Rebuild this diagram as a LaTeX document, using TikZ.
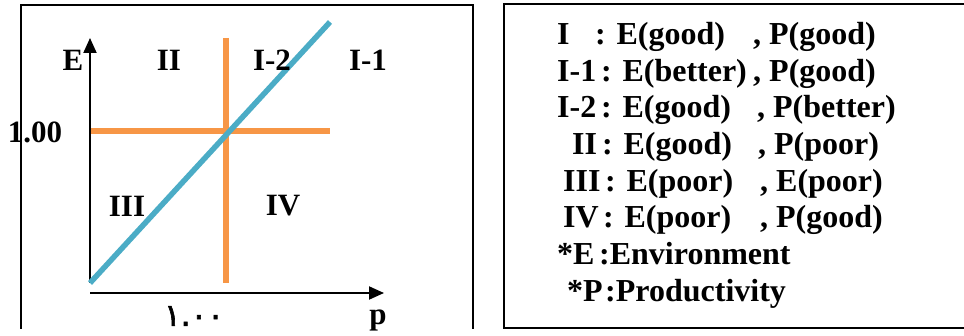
\documentclass[tikz,border=0pt]{standalone}
\usepackage{fontspec}
\setmainfont{Liberation Serif}
\newfontfamily\arabicfont[Script=Arabic, FakeBold=2]{DejaVu Sans}
\usetikzlibrary{arrows.meta}
\definecolor{splitorange}{HTML}{F79646}
\definecolor{trendblue}{HTML}{4BACC6}

\begin{document}
\begin{tikzpicture}[x=1pt, y=-1pt,
    region/.style={font=\fontsize{31}{36}\selectfont\bfseries, inner sep=0pt},
    legendrow/.style={font=\fontsize{32}{36}\selectfont\bfseries, inner sep=0pt, anchor=base west},
    axisline/.style={line width=2pt, -{Triangle[length=15pt, width=13pt]}},
    splitline/.style={line width=5.5pt, splitorange},
    trendline/.style={line width=5.5pt, trendblue}]
    \useasboundingbox (0,0) rectangle (964,336);

    % ---------- frames ----------
    \draw[line width=1.6pt] (21,329) -- (21,5) -- (473,5) -- (473,329);
    \draw[line width=1.8pt] (968,328) -- (504,328) -- (504,4) -- (968,4);

    % ---------- axes ----------
    \coordinate (ybot) at (90,283);
    \coordinate (ytop) at (90,38);
    \coordinate (xleft) at (90,293);
    \coordinate (xright) at (384,293);
    \draw[axisline] (ybot) -- (ytop);
    \draw[axisline] (xleft) -- (xright);

    % ---------- quadrant split ----------
    \coordinate (hleft) at (91,131);
    \coordinate (hright) at (330,131);
    \coordinate (vtop) at (226,38);
    \coordinate (vbot) at (226,283);
    \draw[splitline] (hleft) -- (hright);
    \draw[splitline] (vtop) -- (vbot);

    % diagonal trend
    \coordinate (trendend) at (330,22);
    \draw[trendline] (ybot) -- (trendend);

    % ---------- region labels ----------
    \node[region] (lblE) at (73,60) {E};
    \node[region] (lblII) at (169,60) {II};
    \node[region] (lblItwo) at (272,60) {I-2};
    \node[region] (lblIone) at (368,60) {I-1};
    \node[region] (lblone) at (35,132) {1.00};
    \node[region] (lblIII) at (127,206) {III};
    \node[region] (lblIV) at (283,206) {IV};
    \node[inner sep=0pt, font=\fontsize{31}{36}\selectfont\arabicfont] (lblarab) at (194,316) {١.٠٠};
    \node[region, anchor=base] (lblp) at (378,325) {p};

    % ---------- legend ----------
    \node[legendrow] (rowI) at (557,45) {\makebox[38pt][l]{I}\makebox[158pt][l]{: E(good)}, P(good)};
    \node[legendrow] (rowIone) at (557,82) {\makebox[44pt][l]{I-1}\makebox[152pt][l]{: E(better)}, P(good)};
    \node[legendrow] (rowItwo) at (557,118) {\makebox[44pt][l]{I-2}\makebox[156pt][l]{: E(good)}, P(better)};
    \node[legendrow] (rowII) at (572,155) {\makebox[30pt][l]{II}\makebox[156pt][l]{: E(good)}, P(poor)};
    \node[legendrow] (rowIII) at (563,192) {\makebox[42pt][l]{III}\makebox[155pt][l]{: E(poor)}, E(poor)};
    \node[legendrow] (rowIV) at (563,228) {\makebox[40pt][l]{IV}\makebox[157pt][l]{: E(poor)}, P(good)};
    \node[legendrow] (rowE) at (557,265) {\makebox[42pt][l]{*E}:Environment};
    \node[legendrow] (rowP) at (567,302) {\makebox[38pt][l]{*P}:Productivity};
\end{tikzpicture}
\end{document}
